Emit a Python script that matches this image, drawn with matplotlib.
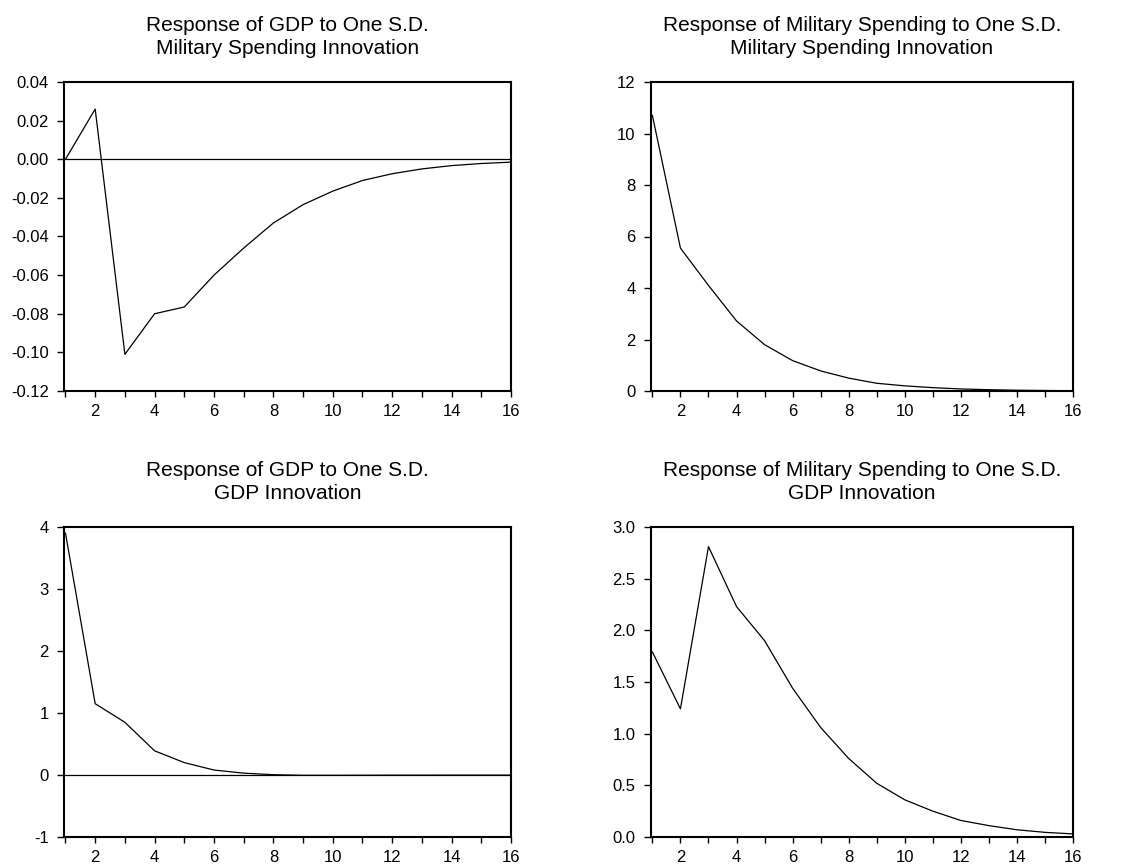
import matplotlib
matplotlib.use("Agg")
import matplotlib.pyplot as plt
from matplotlib.ticker import MultipleLocator, FormatStrFormatter

plt.rcParams['font.family'] = ['Liberation Sans', 'DejaVu Sans']

periods = list(range(1, 17))

# impulse responses
gdp_to_mil = [0.0, 0.026, -0.101, -0.080, -0.0765, -0.060, -0.046, -0.033,
              -0.0235, -0.0165, -0.011, -0.0075, -0.005, -0.0033, -0.0022, -0.0015]
mil_to_mil = [10.7, 5.55, 4.1, 2.72, 1.8, 1.18, 0.78, 0.5,
              0.3, 0.2, 0.13, 0.08, 0.05, 0.03, 0.02, 0.01]
gdp_to_gdp = [3.9, 1.15, 0.85, 0.39, 0.2, 0.08, 0.03, 0.005,
              -0.005, -0.005, -0.004, -0.003, -0.003, -0.002, -0.002, -0.002]
mil_to_gdp = [1.79, 1.24, 2.81, 2.23, 1.90, 1.44, 1.06, 0.76,
              0.52, 0.36, 0.25, 0.16, 0.11, 0.07, 0.045, 0.03]

titles = [
    "Response of GDP to One S.D.\nMilitary Spending Innovation",
    "Response of Military Spending to One S.D.\nMilitary Spending Innovation",
    "Response of GDP to One S.D.\nGDP Innovation",
    "Response of Military Spending to One S.D.\nGDP Innovation",
]
series = [gdp_to_mil, mil_to_mil, gdp_to_gdp, mil_to_gdp]
ylims = [(-0.12, 0.04), (0, 12), (-1, 4), (0, 3)]
ysteps = [0.02, 2, 1, 0.5]
yfmts = ['%.2f', '%d', '%d', '%.1f']
zero_line = [True, False, True, False]

W, H = 1124, 866
# axes boxes in pixels: left, top, right, bottom
boxes = [(64, 82, 511, 391), (651, 82, 1073, 391),
         (64, 527, 511, 837), (651, 527, 1073, 837)]

fig = plt.figure(figsize=(W / 100, H / 100), dpi=100)

for i in range(4):
    l, t, r, b = boxes[i]
    ax = fig.add_axes([l / W, 1 - b / H, (r - l) / W, (b - t) / H])
    ax.plot(periods, series[i], color='black', lw=0.9)
    if zero_line[i]:
        ax.axhline(0, color='black', lw=0.9)
    ax.set_xlim(0.95, 16)
    ax.set_ylim(*ylims[i])
    ax.xaxis.set_major_locator(MultipleLocator(2))
    ax.xaxis.set_minor_locator(MultipleLocator(1))
    ax.yaxis.set_major_locator(MultipleLocator(ysteps[i]))
    ax.yaxis.set_major_formatter(FormatStrFormatter(yfmts[i]))
    ax.tick_params(axis='both', which='both', direction='out', width=1,
                   labelsize=12, top=False, right=False)
    ax.tick_params(axis='x', which='both', length=4, pad=5)
    ax.tick_params(axis='y', length=5, pad=6)
    for s in ax.spines.values():
        s.set_linewidth(1.5)
    ax.set_title(titles[i], fontsize=15, pad=20, linespacing=1.3)

fig.savefig('out.png', dpi=100)
